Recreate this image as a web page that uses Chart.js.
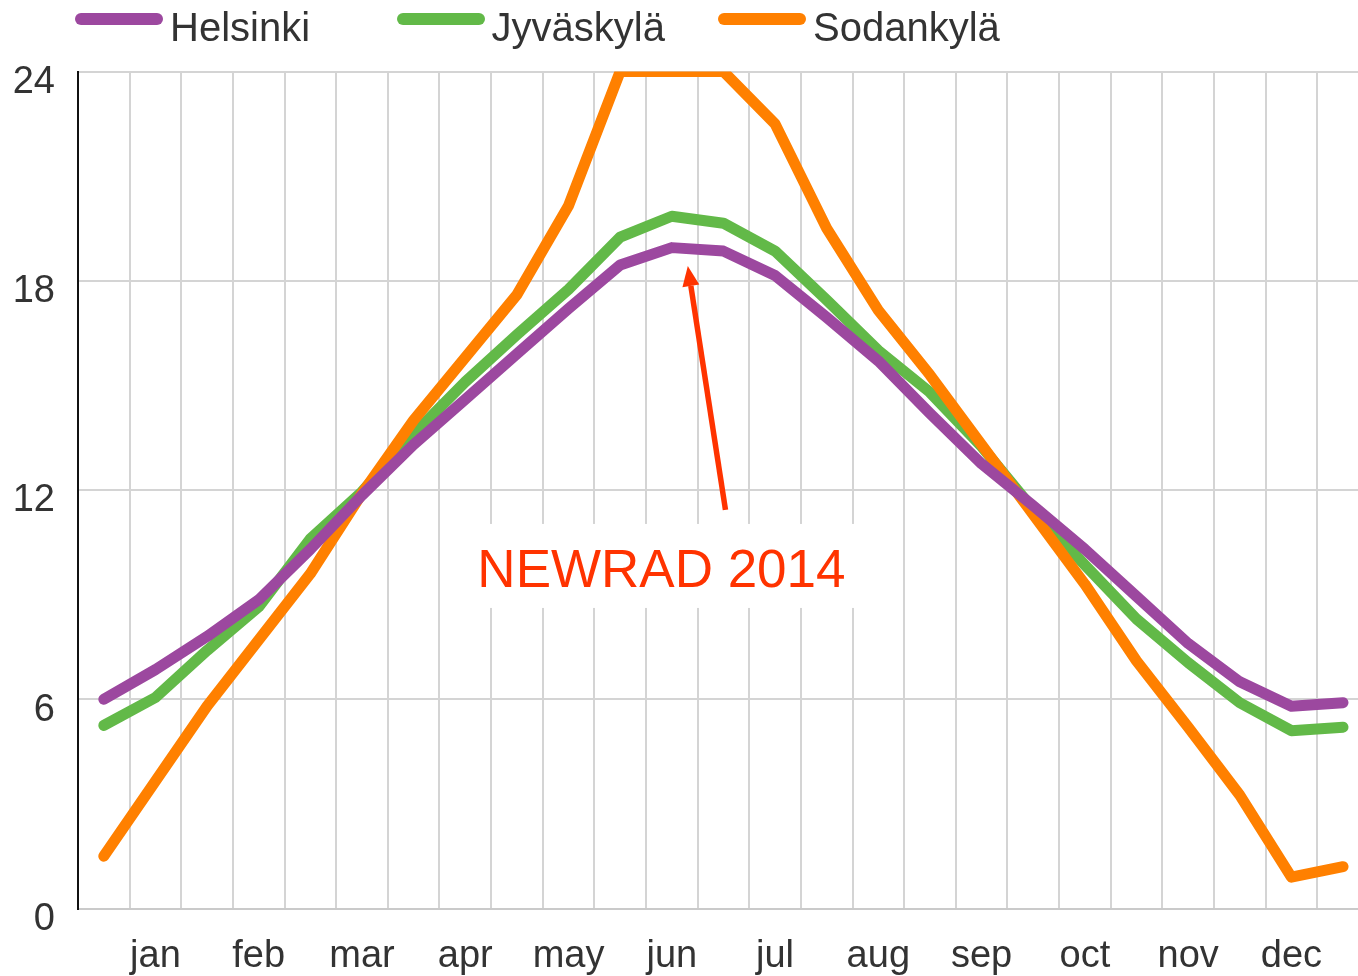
<!DOCTYPE html>
<html><head><meta charset="utf-8">
<script src="https://cdn.jsdelivr.net/npm/chart.js@4/dist/chart.umd.min.js"></script>
<style>
html,body{margin:0;padding:0;background:#fff;}
#wrap{position:relative;width:1358px;height:976px;overflow:hidden;}
#legend{position:absolute;left:0;top:0;width:1358px;height:60px;}
.li{position:absolute;top:0;height:60px;width:320px;}
.li .sw{position:absolute;left:0;top:13px;width:88px;height:12px;border-radius:6px;}
.li .tx{position:absolute;left:95px;top:8px;font-family:'Liberation Sans',Arial,sans-serif;font-size:40px;line-height:39px;color:#333;white-space:nowrap;}
</style></head>
<body><div id="wrap"><canvas id="c" width="1358" height="976"></canvas><div id="legend"></div></div>
<script>
// ---- data ----
const MONTHS = ['jan','feb','mar','apr','may','jun','jul','aug','sep','oct','nov','dec'];
const SERIES_NAMES = ['Helsinki','Jyväskylä','Sodankylä'];
const HELSINKI  = [6.0, 6.85, 7.8, 8.85, 10.3, 11.85, 13.3, 14.6, 15.9, 17.2, 18.45, 18.95, 18.85, 18.15, 16.95, 15.7, 14.2, 12.75, 11.55, 10.3, 8.95, 7.6, 6.5, 5.8, 5.9];
const JYVASKYLA = [5.25, 6.05, 7.4, 8.65, 10.6, 11.95, 13.6, 15.1, 16.45, 17.75, 19.25, 19.85, 19.65, 18.85, 17.45, 16.0, 14.8, 13.25, 11.45, 9.85, 8.3, 7.05, 5.9, 5.1, 5.2];
const SODANKYLA = [1.5, 3.65, 5.8, 7.7, 9.6, 11.9, 14.0, 15.8, 17.6, 20.15, 24, 24, 24, 22.5, 19.5, 17.15, 15.3, 13.3, 11.3, 9.3, 7.1, 5.2, 3.25, 0.9, 1.2];
const Y_TICKS = [0, 6, 12, 18, 24];
const ANNOTATION_TEXT = 'NEWRAD 2014';

// ---- style ----
const COLORS = ['#9c489f', '#62b948', '#ff8000'];
const FONT = "'Liberation Sans', Arial, sans-serif";
const RED = '#ff3300';
const ANNOT_POS = {x: 10.8, y: 9.22};          // text centre / baseline (data units)
const ARROW = {from: {x: 12.04, y: 11.43}, to: {x: 11.31, y: 18.42}};

const toPoints = arr => arr.map((v, i) => ({x: i, y: v}));
const X_TICKS = [];
for (let i = 1; i < HELSINKI.length; i++) X_TICKS.push(i - 0.5);
MONTHS.forEach((m, j) => X_TICKS.push(2 * j + 1));
X_TICKS.sort((a, b) => a - b);

const annotationPlugin = {
  id: 'newrad',
  beforeDatasetsDraw(chart) {
    const {ctx, scales: {x, y}} = chart;
    ctx.save();
    ctx.font = '53px ' + FONT;
    const cx = x.getPixelForValue(ANNOT_POS.x), by = y.getPixelForValue(ANNOT_POS.y);
    const w = ctx.measureText(ANNOTATION_TEXT).width;
    ctx.fillStyle = '#fff';
    ctx.fillRect(cx - w / 2 - 11, by - 63, w + 24, 84);
    ctx.restore();
  },
  afterDatasetsDraw(chart) {
    const {ctx, scales: {x, y}} = chart;
    ctx.save();
    ctx.font = '53px ' + FONT;
    ctx.fillStyle = RED;
    ctx.textAlign = 'center';
    ctx.textBaseline = 'alphabetic';
    ctx.fillText(ANNOTATION_TEXT, x.getPixelForValue(ANNOT_POS.x), y.getPixelForValue(ANNOT_POS.y));
    const x1 = x.getPixelForValue(ARROW.from.x), y1 = y.getPixelForValue(ARROW.from.y);
    const x2 = x.getPixelForValue(ARROW.to.x), y2 = y.getPixelForValue(ARROW.to.y);
    const ang = Math.atan2(y2 - y1, x2 - x1);
    const hl = 20, hw = 8.5;
    const bx = x2 - hl * Math.cos(ang), byy = y2 - hl * Math.sin(ang);
    ctx.strokeStyle = RED; ctx.lineWidth = 5.5; ctx.lineCap = 'butt';
    ctx.beginPath(); ctx.moveTo(x1, y1); ctx.lineTo(bx, byy); ctx.stroke();
    ctx.beginPath();
    ctx.moveTo(x2, y2);
    ctx.lineTo(bx + hw * Math.sin(ang), byy - hw * Math.cos(ang));
    ctx.lineTo(bx - hw * Math.sin(ang), byy + hw * Math.cos(ang));
    ctx.closePath(); ctx.fill();
    ctx.restore();
  }
};

const mk = (label, data, color, order) => ({
  label, data: toPoints(data), borderColor: color, backgroundColor: color,
  borderWidth: 11, borderCapStyle: 'round', borderJoinStyle: 'round',
  pointRadius: 0, pointHoverRadius: 0, tension: 0, fill: false, order
});

const chart = new Chart(document.getElementById('c'), {
  type: 'line',
  data: {
    datasets: [
      mk(SERIES_NAMES[0], HELSINKI, COLORS[0], 0),
      mk(SERIES_NAMES[1], JYVASKYLA, COLORS[1], 2),
      mk(SERIES_NAMES[2], SODANKYLA, COLORS[2], 1)
    ]
  },
  options: {
    responsive: false, animation: false,
    layout: {padding: {top: 71.5, left: 0, right: 0, bottom: 0}},
    plugins: {legend: {display: false}, tooltip: {enabled: false}},
    scales: {
      x: {
        type: 'linear', min: -0.5, max: 24.29, bounds: 'data',
        afterBuildTicks(s) { s.ticks = X_TICKS.map(v => ({value: v})); },
        afterFit(s) { s.height = 67.5; },
        border: {display: true, color: '#cacaca', width: 2},
        grid: {
          color: c => Number.isInteger(c.tick.value) ? 'rgba(0,0,0,0)' : '#d4d4d4',
          lineWidth: 2, drawTicks: false
        },
        ticks: {
          autoSkip: false, maxRotation: 0, minRotation: 0, padding: 25, color: '#333',
          font: {family: FONT, size: 38},
          callback: v => Number.isInteger(v) ? MONTHS[(v - 1) / 2] : ''
        }
      },
      y: {
        min: 0, max: 24, position: 'left',
        afterBuildTicks(s) { s.ticks = Y_TICKS.map(v => ({value: v})); },
        afterFit(s) { s.width = 78; },
        border: {display: true, color: '#111', width: 2},
        grid: {color: '#d4d4d4', lineWidth: 2, drawTicks: false},
        ticks: {padding: 23, labelOffset: 11, color: '#333', font: {family: FONT, size: 38}}
      }
    }
  },
  plugins: [annotationPlugin]
});

// HTML legend built from the chart's own legend items
const legendEl = document.getElementById('legend');
const items = Chart.defaults.plugins.legend.labels.generateLabels(chart)
  .sort((a, b) => a.datasetIndex - b.datasetIndex);
items.forEach((it, i) => {
  const d = document.createElement('div');
  d.className = 'li';
  d.style.left = (75 + i * 321.5) + 'px';
  const sw = document.createElement('span');
  sw.className = 'sw'; sw.style.background = it.strokeStyle;
  const tx = document.createElement('span');
  tx.className = 'tx'; tx.textContent = it.text;
  d.appendChild(sw); d.appendChild(tx);
  legendEl.appendChild(d);
});
</script></body></html>
